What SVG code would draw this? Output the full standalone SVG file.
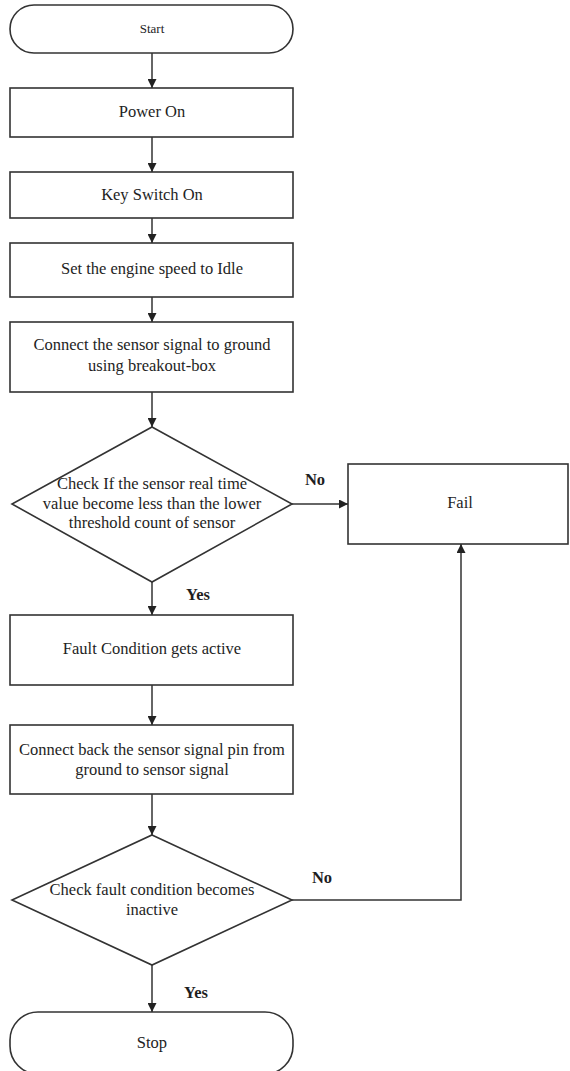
<svg xmlns="http://www.w3.org/2000/svg" width="570" height="1071" viewBox="0 0 570 1071">
  <style>
    .shape { fill: #ffffff; stroke: #333333; stroke-width: 1.6; }
    .label { font-family: "Liberation Serif", "Times New Roman", serif; font-size: 16.5px; fill: #1e1e1e; text-anchor: middle; }
    .small { font-size: 13px; }
    .branch { font-family: "Liberation Serif", "Times New Roman", serif; font-size: 16.5px; font-weight: bold; fill: #1e1e1e; text-anchor: middle; }
    .flow { fill: none; stroke: #333333; stroke-width: 1.5; }
  </style>
  <defs>
    <marker id="arrow" viewBox="0 0 10 10" refX="10" refY="5" markerWidth="9" markerHeight="9" markerUnits="userSpaceOnUse" orient="auto">
      <path d="M0,0 L10,5 L0,10 z" fill="#222222"/>
    </marker>
  </defs>
  <rect width="570" height="1071" fill="#ffffff"/>

  <!-- process chain -->
  <g id="start">
    <rect class="shape" x="10" y="5" width="283" height="48" rx="24" ry="24"/>
    <text class="label small" x="152" y="33">Start</text>
  </g>
  <g id="power-on">
    <rect class="shape" x="10" y="88" width="283" height="49"/>
    <text class="label" x="152" y="117">Power On</text>
  </g>
  <g id="key-switch-on">
    <rect class="shape" x="10" y="172" width="283" height="46"/>
    <text class="label" x="152" y="200">Key Switch On</text>
  </g>
  <g id="idle-speed">
    <rect class="shape" x="10" y="243" width="283" height="54"/>
    <text class="label" x="152" y="274">Set the engine speed to Idle</text>
  </g>
  <g id="ground-signal">
    <rect class="shape" x="10" y="322" width="283" height="70"/>
    <text class="label" x="152" y="350">Connect the sensor signal to ground</text>
    <text class="label" x="152" y="371">using breakout-box</text>
  </g>
  <g id="check-threshold">
    <polygon class="shape" points="152,427 292,504 152,582 12,504"/>
    <text class="label" x="152" y="489">Check If the sensor real time</text>
    <text class="label" x="152" y="509">value become less than the lower</text>
    <text class="label" x="152" y="528">threshold count of sensor</text>
  </g>
  <g id="fail">
    <rect class="shape" x="348" y="464" width="220" height="80"/>
    <text class="label" x="460" y="508">Fail</text>
  </g>
  <g id="fault-active">
    <rect class="shape" x="10" y="615" width="283" height="70"/>
    <text class="label" x="152" y="654">Fault Condition gets active</text>
  </g>
  <g id="reconnect-signal">
    <rect class="shape" x="10" y="725" width="283" height="69"/>
    <text class="label" x="152" y="755">Connect back the sensor signal pin from</text>
    <text class="label" x="152" y="775">ground to sensor signal</text>
  </g>
  <g id="check-inactive">
    <polygon class="shape" points="152,835 292,900 152,965 12,900"/>
    <text class="label" x="152" y="895">Check fault condition becomes</text>
    <text class="label" x="152" y="915">inactive</text>
  </g>
  <g id="stop">
    <rect class="shape" x="10" y="1012" width="283" height="62" rx="28" ry="28"/>
    <text class="label" x="152" y="1048">Stop</text>
  </g>

  <!-- connectors -->
  <g id="connectors">
    <line class="flow" x1="152" y1="53" x2="152" y2="88" marker-end="url(#arrow)"/>
    <line class="flow" x1="152" y1="137" x2="152" y2="172" marker-end="url(#arrow)"/>
    <line class="flow" x1="152" y1="218" x2="152" y2="243" marker-end="url(#arrow)"/>
    <line class="flow" x1="152" y1="297" x2="152" y2="322" marker-end="url(#arrow)"/>
    <line class="flow" x1="152" y1="392" x2="152" y2="427" marker-end="url(#arrow)"/>
    <line class="flow" x1="292" y1="504" x2="348" y2="504" marker-end="url(#arrow)"/>
    <line class="flow" x1="152" y1="582" x2="152" y2="615" marker-end="url(#arrow)"/>
    <line class="flow" x1="152" y1="685" x2="152" y2="725" marker-end="url(#arrow)"/>
    <line class="flow" x1="152" y1="794" x2="152" y2="835" marker-end="url(#arrow)"/>
    <polyline class="flow" points="292,900 461,900 461,544" marker-end="url(#arrow)"/>
    <line class="flow" x1="152" y1="965" x2="152" y2="1012" marker-end="url(#arrow)"/>
    <text class="branch" x="315" y="485">No</text>
    <text class="branch" x="198" y="600">Yes</text>
    <text class="branch" x="322" y="883">No</text>
    <text class="branch" x="196" y="998">Yes</text>
  </g>
</svg>
